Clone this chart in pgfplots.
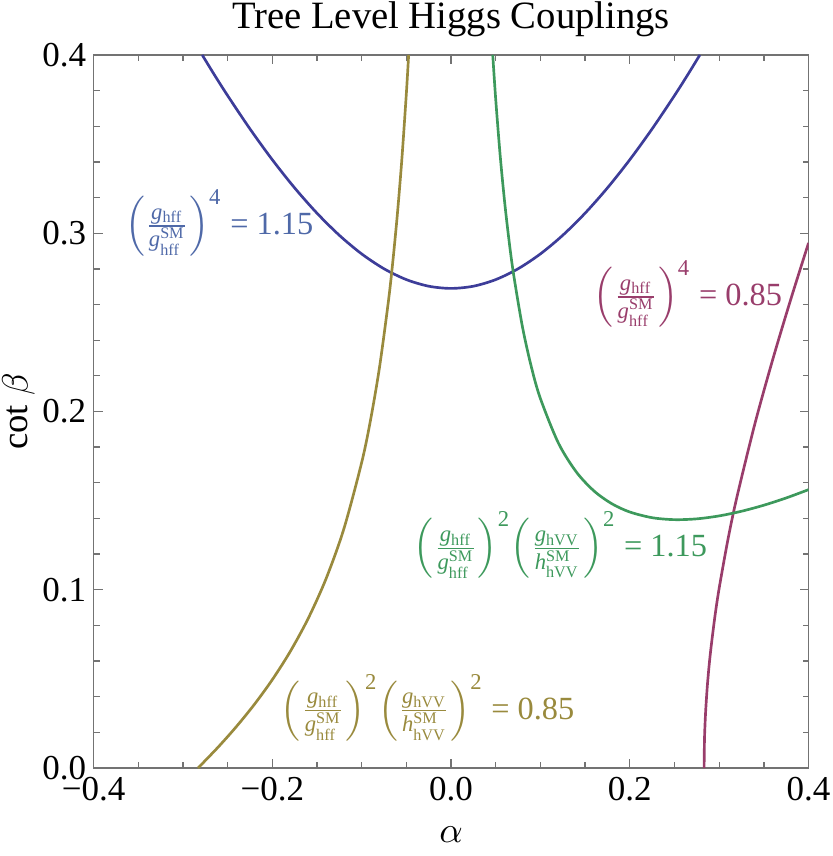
\documentclass[border=0pt]{standalone}
\usepackage{fontspec}
\setmainfont{Liberation Serif}
\usepackage{pgfplots}
\pgfplotsset{compat=1.18}

\definecolor{cblue}{rgb}{0.24,0.24,0.6}
\definecolor{cbluelab}{rgb}{0.31,0.41,0.66}
\definecolor{cpurple}{rgb}{0.6,0.24,0.42}
\definecolor{cgreen}{rgb}{0.24,0.6,0.36}
\definecolor{colive}{rgb}{0.6,0.54,0.24}

\newcommand{\ghff}{\mathit{g}_{\mathrm{hff}}}
\newcommand{\ghffsm}{\mathit{g}^{\mathrm{SM}}_{\mathrm{hff}}}
\newcommand{\ghvv}{\mathit{g}_{\mathrm{hVV}}}
\newcommand{\hhvvsm}{\mathit{h}^{\mathrm{SM}}_{\mathrm{hVV}}}
\newcommand{\ffrac}{\left(\frac{\ghff}{\ghffsm}\right)}
\newcommand{\vfrac}{\left(\frac{\ghvv}{\hhvvsm}\right)}

\begin{document}
\begin{tikzpicture}
\begin{axis}[
    scale only axis,
    width=214.5pt, height=213.9pt,
    xmin=-0.4, xmax=0.4, ymin=0, ymax=0.4,
    xtick={-0.4,-0.2,0,0.2,0.4},
    xticklabels={−0.4,−0.2,0.0,0.2,0.4},
    ytick={0,0.1,0.2,0.3,0.4},
    yticklabels={0.0,0.1,0.2,0.3,0.4},
    minor x tick num=3, minor y tick num=4,
    tick align=inside,
    major tick length=2.7pt, minor tick length=1.8pt,
    axis line style={black!55, line width=0.5pt},
    every tick/.style={black!55, line width=0.4pt},
    tick label style={font=\fontsize{10.5}{12}\selectfont, inner sep=0.5pt},
    xticklabel style={anchor=north, yshift=-2pt},
    yticklabel style={anchor=east, xshift=-1.5pt},
    title={Tree Level Higgs Couplings},
    every axis title/.style={at={(axis description cs:0.5,1.037)}, anchor=base, inner sep=0pt, font=\fontsize{11.6}{13}\selectfont},
    xlabel={$\alpha$}, ylabel={cot $\beta$},
    every axis x label/.style={at={(axis description cs:0.5,-0.094)}, anchor=center, inner sep=0pt, font=\fontsize{11}{13}\selectfont},
    every axis y label/.style={at={(axis description cs:-0.105,0.5)}, rotate=90, anchor=center, inner sep=0pt, font=\fontsize{11}{13}\selectfont},
    every axis plot/.append style={line width=0.8pt, smooth},
]
% (g_hff/g_hff^SM)^4 = 1.15
\addplot[cblue] coordinates {
    (-0.27838,0.4) (-0.265,0.38904) (-0.25,0.37723) (-0.225,0.35855)
    (-0.2,0.34124) (-0.175,0.32543) (-0.15,0.31125) (-0.125,0.29885)
    (-0.1,0.28840) (-0.075,0.28006) (-0.05,0.27398) (-0.025,0.27028)
    (0,0.26904) (0.025,0.27028) (0.05,0.27398) (0.075,0.28006)
    (0.1,0.28840) (0.125,0.29885) (0.15,0.31125) (0.175,0.32543)
    (0.2,0.34124) (0.225,0.35855) (0.25,0.37723) (0.265,0.38904)
    (0.27838,0.4)
};
% (g_hff/g_hff^SM)^4 = 0.85
\addplot[cpurple] coordinates {
    (0.28313,0) (0.2835,0.0146) (0.284,0.02248) (0.285,0.0330)
    (0.287,0.04763) (0.29,0.06367) (0.295,0.08415) (0.30,0.10087)
    (0.31,0.12868) (0.32,0.15232) (0.34,0.19318) (0.36,0.22929)
    (0.38,0.26274) (0.40,0.29454)
};
% (..)^2 (..)^2 = 1.15
\addplot[cgreen] coordinates {
    (0.046665,0.4) (0.05,0.37502) (0.055,0.34344) (0.06,0.31733)
    (0.065,0.29544) (0.07,0.27688) (0.08,0.24720) (0.09,0.22471)
    (0.10,0.20725) (0.12,0.18240) (0.14,0.16619) (0.16,0.15539)
    (0.18,0.14823) (0.20,0.14361) (0.225,0.14042) (0.25,0.13932)
    (0.275,0.13978) (0.30,0.14143) (0.325,0.14404) (0.35,0.14743)
    (0.375,0.15150) (0.40,0.15615)
};
% (..)^2 (..)^2 = 0.85
\addplot[colive] coordinates {
    (-0.28313,0) (-0.28,0.001576) (-0.26,0.01203) (-0.24,0.02333)
    (-0.22,0.03571) (-0.20,0.04953) (-0.18,0.06528) (-0.16,0.08371)
    (-0.14,0.10598) (-0.12,0.13402) (-0.10,0.17134) (-0.09,0.19540)
    (-0.08,0.22489) (-0.07,0.26212) (-0.065,0.28475) (-0.06,0.31095)
    (-0.055,0.34171) (-0.05,0.37837) (-0.047444,0.4)
};

\node[anchor=west, text=cbluelab, inner sep=0pt, font=\fontsize{9.7}{12}\selectfont] at (axis cs:-0.3655,0.306)
    {$\ffrac^{\mathrm{4}}$ = 1.15};
\node[anchor=west, text=cpurple, inner sep=0pt, font=\fontsize{9.7}{12}\selectfont] at (axis cs:0.159,0.266)
    {$\ffrac^{\mathrm{4}}$ = 0.85};
\node[anchor=west, text=cgreen, inner sep=0pt, font=\fontsize{9.7}{12}\selectfont] at (axis cs:-0.0425,0.125)
    {$\ffrac^{\mathrm{2}}\!\vfrac^{\mathrm{2}}$ = 1.15};
\node[anchor=west, text=colive, inner sep=0pt, font=\fontsize{9.7}{12}\selectfont] at (axis cs:-0.191,0.034)
    {$\ffrac^{\mathrm{2}}\!\vfrac^{\mathrm{2}}$ = 0.85};

\coordinate (bbl) at (rel axis cs:-0.1308,-0.1234);
\coordinate (btr) at (rel axis cs:1.0298,1.0771);
\end{axis}
\path (bbl) rectangle (btr);
\end{tikzpicture}
\end{document}
